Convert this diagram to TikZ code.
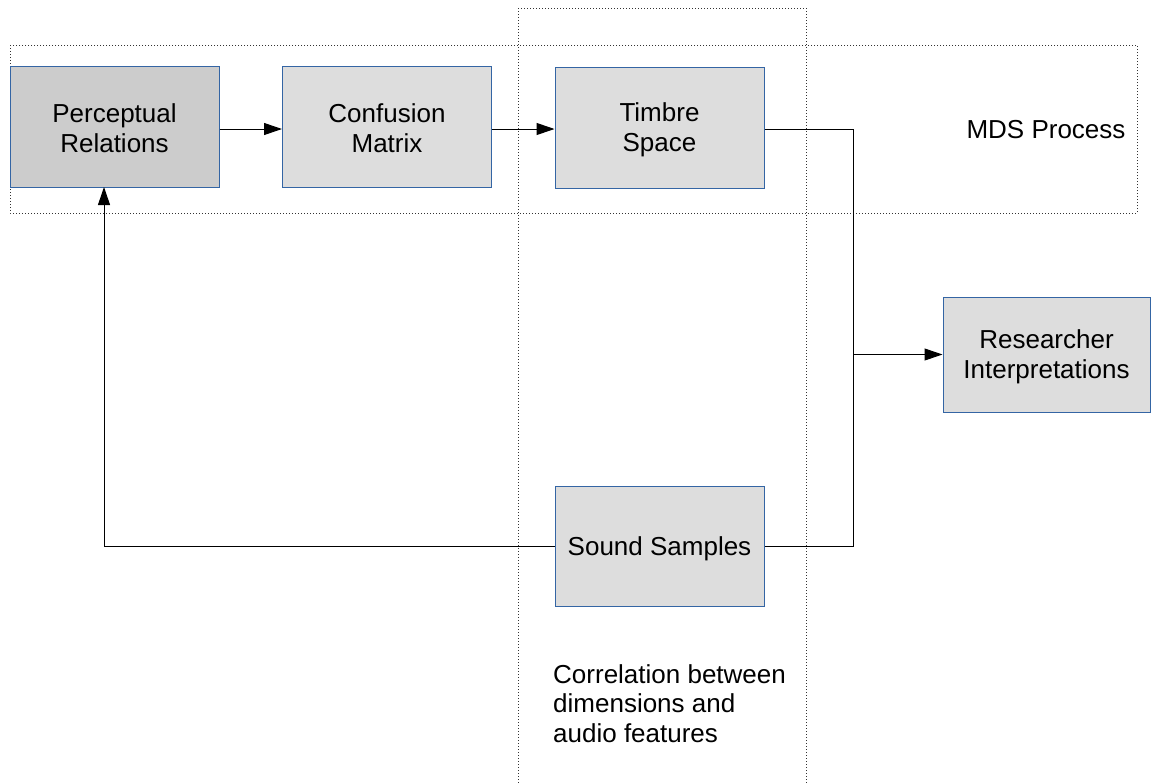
\documentclass[tikz,border=0pt]{standalone}
\usepackage{fontspec}
\setmainfont{Liberation Sans}
\usetikzlibrary{arrows.meta}
\definecolor{boxblue}{HTML}{3465A4}
\definecolor{fillA}{HTML}{CCCCCC}
\definecolor{fillB}{HTML}{DDDDDD}
\newcommand\lnst{\rule[-3pt]{0pt}{27pt}}
\begin{document}
\begin{tikzpicture}[x=1pt,y=-1pt,
  procbox/.style={draw=boxblue,line width=1pt,fill=fillB,minimum width=209pt,minimum height=121pt,
    inner sep=0pt,align=center,font=\fontsize{26}{30}\selectfont},
  conn/.style={line width=1pt,black},
  arr/.style={conn,-{Triangle[length=18pt,width=12pt]}},
  region/.style={line width=1pt,dash pattern=on 1pt off 2pt,black!80}
]
\useasboundingbox (0,0) rectangle (1151,782);
% dotted regions
\draw[region] (10,45) rectangle (1137,213);
\draw[region] (518,8) -- (806,8);
\draw[region] (518,8) -- (518,790);
\draw[region] (806,8) -- (806,790);
% boxes
\node[procbox,fill=fillA] (per) at (114.5,126.5) {\lnst Perceptual\\\lnst Relations};
\node[procbox] (con) at (387,126.5) {\lnst Confusion\\\lnst Matrix};
\node[procbox] (tim) at (659.5,127.5) {\lnst Timbre\\\lnst Space};
\node[procbox,minimum width=207pt,minimum height=115pt] (res) at (1046.5,354.5) {\lnst Researcher\\\lnst Interpretations};
\node[procbox,minimum height=120pt] (snd) at (659.5,546) {\lnst Sound Samples};
% labels
\node[font=\fontsize{26}{30}\selectfont,inner sep=0pt] (mds) at (1046,130) {MDS Process};
\node[font=\fontsize{26}{29.5}\selectfont,inner sep=0pt,anchor=north west,align=left] (cor) at (553,664)
  {Correlation between\\dimensions and\\audio features};
% connectors
\coordinate (j) at (853,129);
\coordinate (fb) at (104,187);
\draw[arr] (per.east |- 0,129) -- (con.west |- 0,129);
\draw[arr] (con.east |- 0,129) -- (tim.west |- 0,129);
\draw[conn] (tim.east |- j) -- (j) |- (snd.east);
\draw[arr] (j |- res.west) -- (res.west);
\draw[arr] (snd.west) -| (fb);
\end{tikzpicture}
\end{document}
